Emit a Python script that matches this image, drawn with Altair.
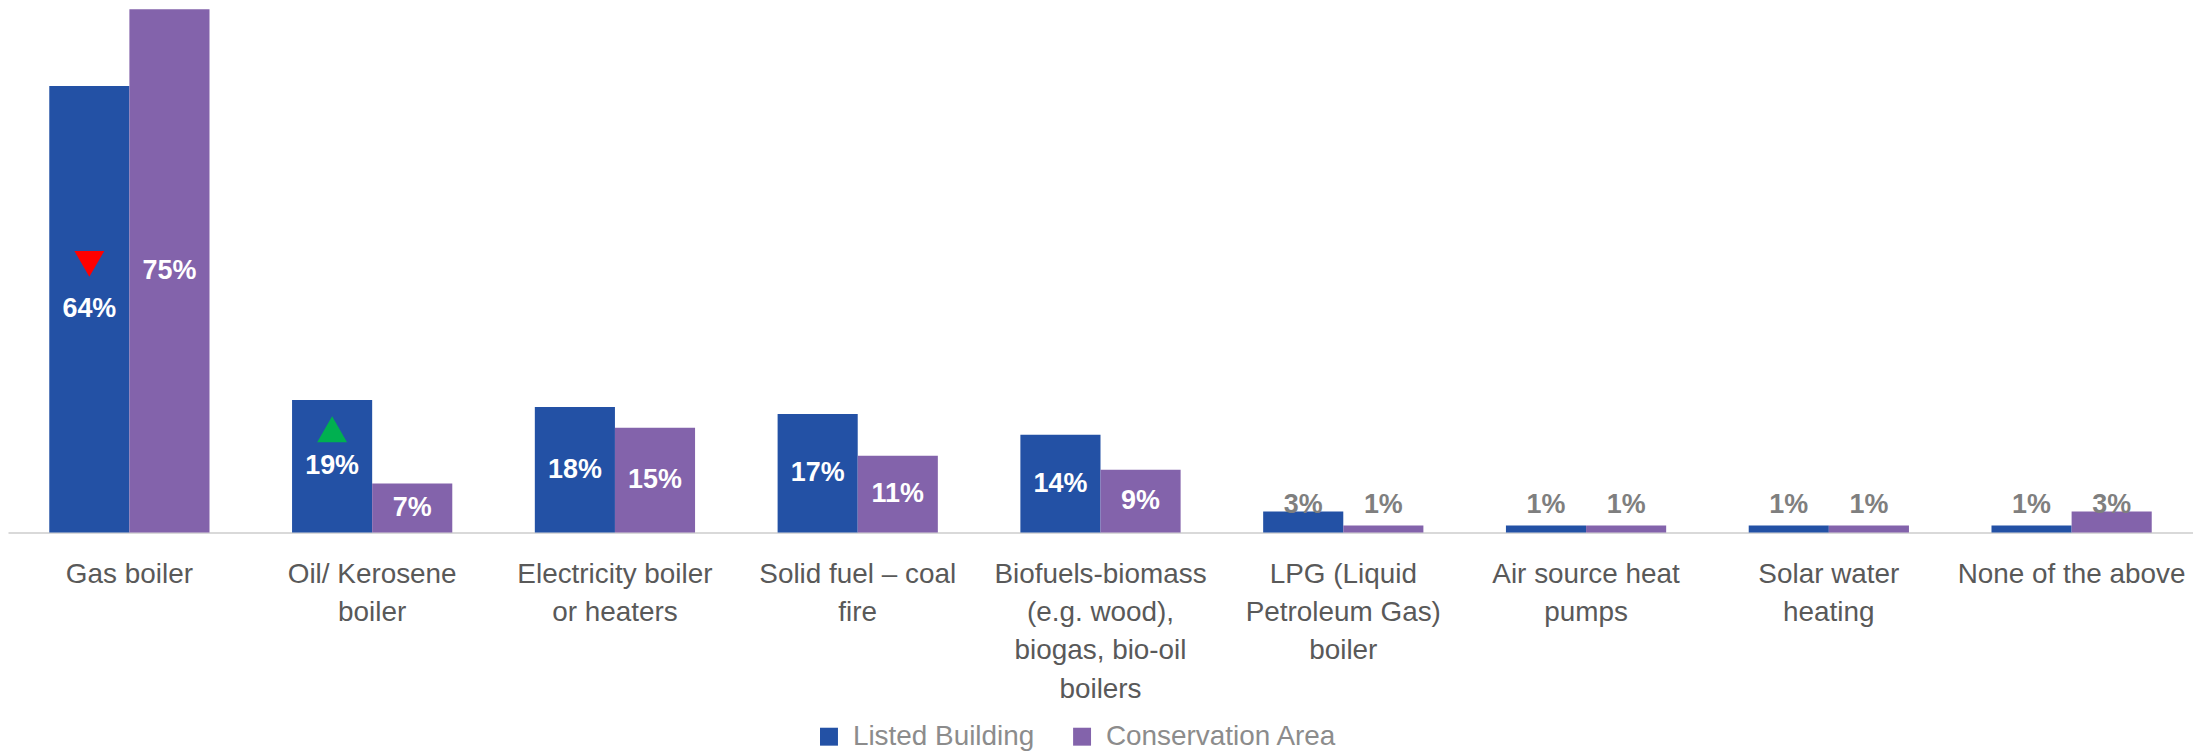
import altair as alt
import pandas as pd

categories = [
    "Gas boiler",
    "Oil/ Kerosene|boiler",
    "Electricity boiler|or heaters",
    "Solid fuel \u2013 coal|fire",
    "Biofuels-biomass|(e.g. wood),|biogas, bio-oil|boilers",
    "LPG (Liquid|Petroleum Gas)|boiler",
    "Air source heat|pumps",
    "Solar water|heating",
    "None of the above",
]
series = ["Listed Building", "Conservation Area"]
listed = [64, 19, 18, 17, 14, 3, 1, 1, 1]
conservation = [75, 7, 15, 11, 9, 1, 1, 1, 3]
colors = ["#2351A5", "#8363AB"]

marker_category = ["Gas boiler", "Oil/ Kerosene|boiler"]
marker_series = ["Listed Building", "Listed Building"]
marker_value = [38.5, 14.8]
marker_shape = ["triangle-down", "triangle-up"]
marker_color = ["#FF0000", "#00B050"]

rows = []
for c, a, b in zip(categories, listed, conservation):
    rows.append({"category": c, "series": series[0], "value": a, "text": f"{a}%"})
    rows.append({"category": c, "series": series[1], "value": b, "text": f"{b}%"})
df = pd.DataFrame(rows)

mdf = pd.DataFrame({
    "category": marker_category,
    "series": marker_series,
    "value": marker_value,
    "mshape": marker_shape,
    "mcolor": marker_color,
})

FONT = "Liberation Sans"

x_enc = alt.X(
    "category:N",
    sort=categories,
    scale=alt.Scale(paddingInner=0.34, paddingOuter=0.17),
    axis=alt.Axis(
        title=None,
        labelAngle=0,
        labelExpr="split(datum.label, '|')",
        labelFont=FONT,
        labelFontSize=28,
        labelColor="#595959",
        labelLineHeight=38.5,
        labelPadding=28,
        labelLimit=400,
        labelBaseline="top",
        ticks=False,
        domainColor="#D9D9D9",
        domainWidth=2,
        grid=False,
    ),
)
xo_enc = alt.XOffset("series:N", sort=series, scale=alt.Scale(domain=series))
y_scale = alt.Scale(domain=[0, 75], nice=False, zero=True)

bars = alt.Chart(df).mark_bar().encode(
    x=x_enc,
    xOffset=xo_enc,
    y=alt.Y("value:Q", scale=y_scale, axis=None),
    color=alt.Color(
        "series:N",
        sort=series,
        scale=alt.Scale(domain=series, range=colors),
        legend=alt.Legend(
            orient="none",
            legendX=810,
            legendY=716,
            direction="horizontal",
            title=None,
            symbolType="square",
            symbolSize=324,
            symbolStrokeWidth=0,
            labelFont=FONT,
            labelFontSize=28,
            labelColor="#8C8C8C",
            labelLimit=0,
            columnPadding=33,
            labelOffset=10,
            padding=0,
        ),
    ),
)

labels = alt.Chart(df).transform_calculate(
    label_y="datum.value >= 5 ? datum.value / 2 : 4"
).mark_text(
    font=FONT, fontSize=27, fontWeight="bold", baseline="middle", align="center"
).encode(
    x=alt.X("category:N", sort=categories),
    xOffset=alt.XOffset("series:N", sort=series),
    y=alt.Y("label_y:Q", scale=y_scale),
    text="text:N",
    color=alt.condition("datum.value >= 5", alt.value("#FFFFFF"), alt.value("#7F7F7F")),
)

markers = alt.Chart(mdf).mark_point(filled=True, size=900, opacity=1, strokeWidth=0).encode(
    x=alt.X("category:N", sort=categories),
    xOffset=alt.XOffset("series:N", sort=series),
    y=alt.Y("value:Q", scale=y_scale),
    shape=alt.Shape("mshape:N", scale=None),
    fill=alt.Fill("mcolor:N", scale=None),
)

chart = alt.layer(bars, labels, markers).properties(
    width=2193,
    height=525,
    padding={"left": 0, "top": 0, "right": 0, "bottom": 0},
).configure_view(stroke=None)

chart.save("out.html", embed_options={"renderer": "svg", "actions": False})
